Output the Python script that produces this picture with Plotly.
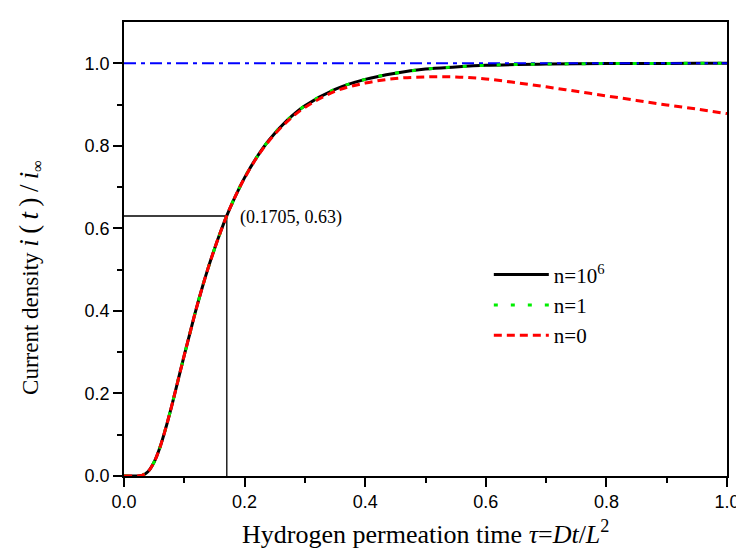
import plotly.graph_objects as go

# ---- data ----
tau = [0.0, 0.02, 0.03, 0.04, 0.05, 0.06, 0.07, 0.08, 0.09, 0.10, 0.11, 0.12, 0.13, 0.14,
       0.15, 0.16, 0.17, 0.18, 0.19, 0.20, 0.22, 0.24, 0.27, 0.30, 0.35, 0.40, 0.45,
       0.50, 0.55, 0.60, 0.65, 0.70, 0.75, 0.80, 0.85, 0.90, 0.95, 1.00]

i_n1e6 = [0.0, 0.0, 0.0016, 0.011, 0.034, 0.071, 0.120, 0.175, 0.234, 0.293, 0.350, 0.406,
          0.458, 0.506, 0.550, 0.591, 0.629, 0.663, 0.694, 0.723, 0.772, 0.813, 0.861,
          0.897, 0.937, 0.961, 0.976, 0.986, 0.991, 0.995, 0.997, 0.998, 0.9988, 0.9993,
          0.9995, 0.9997, 0.9998, 0.9999]

i_n1 = [0.0, 0.0, 0.0016, 0.011, 0.034, 0.071, 0.120, 0.175, 0.234, 0.293, 0.350, 0.406,
        0.458, 0.506, 0.550, 0.591, 0.629, 0.663, 0.694, 0.723, 0.772, 0.813, 0.861,
        0.897, 0.937, 0.961, 0.976, 0.986, 0.991, 0.995, 0.997, 0.998, 0.9988, 0.9993,
        0.9995, 0.9997, 0.9998, 0.9999]

i_n0 = [0.0, 0.0, 0.0016, 0.011, 0.034, 0.071, 0.120, 0.175, 0.234, 0.293, 0.350, 0.406,
        0.458, 0.506, 0.550, 0.591, 0.629, 0.663, 0.694, 0.722, 0.771, 0.811, 0.858,
        0.893, 0.932, 0.952, 0.963, 0.967, 0.967, 0.962, 0.953, 0.943, 0.932, 0.921,
        0.910, 0.899, 0.889, 0.878]

steady_x = [0.0, 1.0]
steady_y = [1.0, 1.0]

mark_tau = 0.1705
mark_i = 0.63

x_ticks = [0.0, 0.2, 0.4, 0.6, 0.8, 1.0]
y_ticks = [0.0, 0.2, 0.4, 0.6, 0.8, 1.0]
minor_ticks = [0.1, 0.3, 0.5, 0.7, 0.9]

serif = "Liberation Serif, Times New Roman, serif"
sans = "Liberation Sans, Arial, sans-serif"

fig = go.Figure()

# guide lines to the marked point
fig.add_trace(go.Scatter(x=[0.0, mark_tau, mark_tau], y=[mark_i, mark_i, 0.0], mode="lines",
                         line=dict(color="black", width=1.3), showlegend=False, hoverinfo="skip"))

fig.add_trace(go.Scatter(x=tau, y=i_n1e6, mode="lines", name="n=10<sup>6</sup>",
                         line=dict(color="black", width=3, shape="spline")))
fig.add_trace(go.Scatter(x=steady_x, y=steady_y, mode="lines", showlegend=False,
                         line=dict(color="#0000ff", width=2, dash="12px,5px,4px,5px")))
fig.add_trace(go.Scatter(x=tau, y=i_n1, mode="lines", name="n=1",
                         line=dict(color="#00ee00", width=3, dash="4px,13px", shape="spline")))
fig.add_trace(go.Scatter(x=tau, y=i_n0, mode="lines", name="n=0",
                         line=dict(color="#ff0000", width=3, dash="8px,5px", shape="spline")))

fig.add_annotation(x=mark_tau, y=mark_i, xref="x", yref="y", text="(0.1705, 0.63)",
                   showarrow=False, xanchor="left", yanchor="middle", xshift=11, yshift=-2,
                   font=dict(family=serif, size=18, color="black"))

# axis titles
fig.add_annotation(x=0.5, y=-0.125, xref="paper", yref="paper",
                   text="Hydrogen permeation time <i>τ</i>=<i>Dt</i>/<i>L</i><sup>2</sup>",
                   showarrow=False, xanchor="center", yanchor="middle",
                   font=dict(family=serif, size=26, color="black"))
ytitle = ("Current density "
          "<span style='font-size:27px'><i>i</i>&#8201;(&#8201;<i>t</i>&#8201;)&#8201;/&#8201;<i>i</i></span>"
          "<sub>∞</sub>")
fig.add_annotation(x=-0.157, y=0.437, xref="paper", yref="paper",
                   text=ytitle,
                   showarrow=False, xanchor="center", yanchor="middle", textangle=-90,
                   font=dict(family=serif, size=23, color="black"))

axis_common = dict(showline=True, linecolor="black", linewidth=1.5, mirror=True,
                   ticks="outside", ticklen=9, tickwidth=1.5, tickcolor="black",
                   showgrid=False, zeroline=False, tickformat=".1f",
                   tickfont=dict(family=sans, size=18, color="black"),
                   minor=dict(tickvals=minor_ticks, ticks="outside", ticklen=5,
                              tickwidth=1.5, tickcolor="black", showgrid=False))

fig.update_xaxes(range=[0, 1.0], tickvals=x_ticks, **axis_common)
fig.update_yaxes(range=[0, 1.1], tickvals=y_ticks, **axis_common)

fig.update_layout(
    width=744, height=549,
    margin=dict(l=116, r=13, t=13, b=81),
    paper_bgcolor="white", plot_bgcolor="white",
    showlegend=True,
    legend=dict(x=0.605, y=0.488, xanchor="left", yanchor="top",
                bgcolor="rgba(0,0,0,0)", borderwidth=0, itemwidth=55,
                font=dict(family=serif, size=21, color="black"),
                tracegroupgap=0),
)

fig.write_html("out.html")
